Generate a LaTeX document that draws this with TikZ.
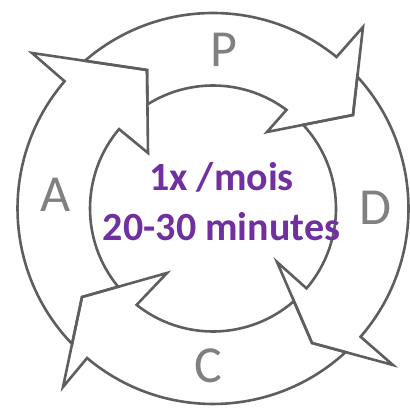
\documentclass[tikz,border=0pt]{standalone}
\usepackage{fontspec}
\setmainfont{Carlito}
\usetikzlibrary{calc,intersections}
\definecolor{ringgray}{HTML}{5E5E5E}
\definecolor{lettergray}{HTML}{808080}
\definecolor{mauve}{HTML}{7030A0}
\tikzset{
  ringline/.style={draw=ringgray, line width=2.6pt, line join=miter, miter limit=6},
  phase/.style={text=lettergray, font=\fontsize{52}{52}\selectfont, inner sep=0pt, anchor=base},
  freq/.style={text=mauve, font=\bfseries\fontsize{40}{40}\selectfont, inner sep=0pt, anchor=base},
}
\begin{document}
\begin{tikzpicture}[x=1pt,y=1pt]
\useasboundingbox (0,0) rectangle (410,409);
\coordinate (O) at (213,200.5);
\begin{scope}[shift={(213,200.5)}]
  \path[name path=oc] (0,0) circle[radius=195.5];
  \path[name path=ic] (0,0) circle[radius=123];
  % arrow heads: outer barb, tip, inner barb
  \coordinate (Pob) at (150,181.5);  \coordinate (Ptip) at (140,93.5);   \coordinate (Pib) at (54,76.5);
  \coordinate (Aob) at (-181,155.5); \coordinate (Atip) at (-66,138.5);  \coordinate (Aib) at (-65,55.5);
  \coordinate (Cob) at (-150,-178.5);\coordinate (Ctip) at (-131,-88.5); \coordinate (Cib) at (-46,-64.5);
  \coordinate (Dob) at (180,-156.5); \coordinate (Dtip) at (99,-134.5);  \coordinate (Dib) at (64,-53.5);
  \path[name path=Po] (Ptip) -- (Pob);  \path[name path=Pi] (Ptip) -- (Pib);
  \path[name path=Ao] (Atip) -- (Aob);  \path[name path=Ai] (Atip) -- (Aib);
  \path[name path=Co] (Ctip) -- (Cob);  \path[name path=Ci] (Ctip) -- (Cib);
  \path[name path=Do] (Dtip) -- (Dob);  \path[name path=Di] (Dtip) -- (Dib);
  \path[name intersections={of=oc and Po, by=Dto}];
  \path[name intersections={of=ic and Pi, by=Dti}];
  \path[name intersections={of=oc and Do, by=Cto}];
  \path[name intersections={of=ic and Di, by=Cti}];
  \path[name intersections={of=oc and Co, by=Ato}];
  \path[name intersections={of=ic and Ci, by=Ati}];
  \path[name intersections={of=oc and Ao, by=Pto}];
  \path[name intersections={of=ic and Ai, by=Pti}];
  % P arrow
  \draw[ringline] let \p1=($(Pto)-(O)$), \n1={atan2(\y1,\x1)}, \p2=($(Pti)-(O)$), \n2={atan2(\y2,\x2)} in
    (Pto) arc[start angle=\n1, end angle=50.8, radius=195.5] -- (Pob) -- (Ptip) -- (Pib)
    -- (53.3:123) arc[start angle=53.3, end angle=\n2, radius=123] -- (Atip) -- cycle;
  % D arrow
  \draw[ringline] let \p1=($(Dto)-(O)$), \n1={atan2(\y1,\x1)}, \p2=($(Dti)-(O)$), \n2={atan2(\y2,\x2)} in
    (Dto) arc[start angle=\n1, end angle=-41, radius=195.5] -- (Dob) -- (Dtip) -- (Dib)
    -- (-40.5:123) arc[start angle=-40.5, end angle=\n2, radius=123] -- (Ptip) -- cycle;
  % C arrow
  \draw[ringline] let \p1=($(Cto)-(O)$), \n1={atan2(\y1,\x1)}, \p2=($(Cti)-(O)$), \n2={atan2(\y2,\x2)} in
    (Cto) arc[start angle=\n1, end angle=-130.1, radius=195.5] -- (Cob) -- (Ctip) -- (Cib)
    -- (-128.4:123) arc[start angle=-128.4, end angle=\n2, radius=123] -- (Dtip) -- cycle;
  % A arrow
  \draw[ringline] let \p1=($(Ato)-(O)$), \n1={atan2(\y1,\x1)}, \p2=($(Ati)-(O)$), \n2={atan2(\y2,\x2)} in
    (Ato) arc[start angle=\n1, end angle=-220.6, radius=195.5] -- (Aob) -- (Atip) -- (Aib)
    -- (-220.2:123) arc[start angle=-220.2, end angle=\n2, radius=123] -- (Ctip) -- cycle;
\end{scope}
\node[phase] (p) at (223.5,342) {P};
\node[phase] (d) at (375,184) {D};
\node[phase] (c) at (208.5,26) {C};
\node[phase] (a) at (56,197) {A};
\node[freq] (l1) at (221.5,218.5) {1x /mois};
\node[freq] (l2) at (221.5,168.5) {20-30 minutes};
\end{tikzpicture}
\end{document}
